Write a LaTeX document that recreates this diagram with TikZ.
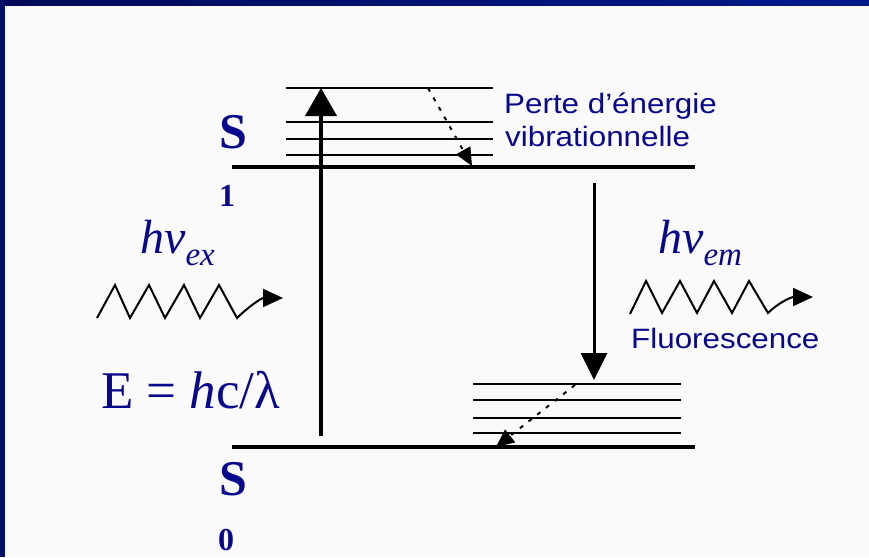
\documentclass[tikz,border=0pt]{standalone}
\usepackage{fontspec}
\setmainfont{Liberation Serif}
\setsansfont{Liberation Sans}
\usetikzlibrary{arrows.meta}
\definecolor{txtblue}{RGB}{8,8,140}
\definecolor{framedark}{RGB}{0,10,88}
\definecolor{framelight}{RGB}{0,26,140}
\definecolor{bgcol}{RGB}{250,250,250}
\begin{document}
\begin{tikzpicture}[x=1pt,y=-1pt,
  elevel/.style={line width=4pt},
  vib/.style={line width=1.8pt},
  txt/.style={inner sep=0pt,anchor=base west,text=txtblue},
  sanslbl/.style={txt,font=\fontsize{28}{32}\selectfont\sffamily},
  slbl/.style={txt,font=\fontsize{50}{50}\selectfont\bfseries},
  sidx/.style={txt,font=\fontsize{32}{32}\selectfont\bfseries},
  hvlbl/.style={txt,font=\fontsize{48}{48}\selectfont\itshape},
  uparrow/.style={line width=4pt,-{Triangle[length=28pt,width=31pt]}},
  downarrow/.style={line width=3pt,-{Triangle[length=27pt,width=26pt]}},
  relax/.style={line width=2pt,dash pattern=on 4pt off 7pt,-{Triangle[length=18pt,width=16pt]}},
  wave/.style={line width=2pt,line join=miter,-{Triangle[length=20pt,width=18pt]}}
]
\useasboundingbox (0,0) rectangle (869,557);
\fill[bgcol] (0,0) rectangle (869,557);
\shade[left color=framedark,right color=framelight] (0,0) rectangle (869,5);
\fill[framedark!70!framelight] (0,0) rectangle (4.5,557);

% electronic levels
\coordinate (s1L) at (232,167); \coordinate (s1R) at (695,167);
\coordinate (s0L) at (232,447); \coordinate (s0R) at (695,447);
\draw[elevel] (s1L) -- (s1R);
\draw[elevel] (s0L) -- (s0R);

% vibrational levels of S1
\foreach \y [count=\i] in {88,122,139,155}{
  \coordinate (u\i L) at (286,\y); \coordinate (u\i R) at (493,\y);
  \draw[vib] (u\i L) -- (u\i R);
}
% vibrational levels of S0
\foreach \y [count=\i] in {384,400,418,433}{
  \coordinate (d\i L) at (473,\y); \coordinate (d\i R) at (681,\y);
  \draw[vib] (d\i L) -- (d\i R);
}

% absorption and emission arrows
\coordinate (exA) at (321,436); \coordinate (exB) at (321,88);
\draw[uparrow] (exA) -- (exB);
\coordinate (emA) at (594,183); \coordinate (emB) at (594,380);
\draw[downarrow] (emA) -- (emB);

% vibrational relaxation
\coordinate (r1A) at (428,88); \coordinate (r1B) at (472,166);
\draw[relax] (r1A) -- (r1B);
\coordinate (r2A) at (575,385); \coordinate (r2B) at (496,447);
\draw[relax] (r2A) -- (r2B);

% photons
\coordinate (wexA) at (97,318); \coordinate (wexB) at (283,298);
\draw[wave] (wexA) -- ++(18,-33) -- ++(15,33) -- ++(19,-33) -- ++(16,33)
  -- ++(19,-33) -- ++(16,33) -- ++(19,-33) -- ++(18,33)
  .. controls ++(10,-10) and ++(-22,0) .. (wexB);
\coordinate (wemA) at (630,314); \coordinate (wemB) at (813,297);
\draw[wave] (wemA) -- ++(16,-33) -- ++(16,32) -- ++(18,-32) -- ++(17,32)
  -- ++(17,-32) -- ++(18,32) -- ++(17,-32) -- ++(19,32)
  .. controls ++(10,-10) and ++(-22,0) .. (wemB);

% labels
\node[slbl] (S1) at (219,148) {S};
\node[sidx] (S1i) at (219,206) {1};
\node[slbl] (S0) at (219,495) {S};
\node[sidx] (S0i) at (218,550) {0};
\node[hvlbl] (hvex) at (140,253) {hv\raisebox{-12pt}{\fontsize{33}{33}\selectfont ex}};
\node[hvlbl] (hvem) at (658,253) {hv\raisebox{-12pt}{\fontsize{33}{33}\selectfont em}};
\node[txt,font=\fontsize{53}{53}\selectfont] (energy) at (101,408) {E = \textit{h}c/λ};
\node[sanslbl] (perte1) at (504,113) {\scalebox{1.12}[1]{Perte d’énergie}};
\node[sanslbl] (perte2) at (505,146) {\scalebox{1.12}[1]{vibrationnelle}};
\node[sanslbl] (fluo) at (631,348) {\scalebox{1.12}[1]{Fluorescence}};
\end{tikzpicture}
\end{document}
